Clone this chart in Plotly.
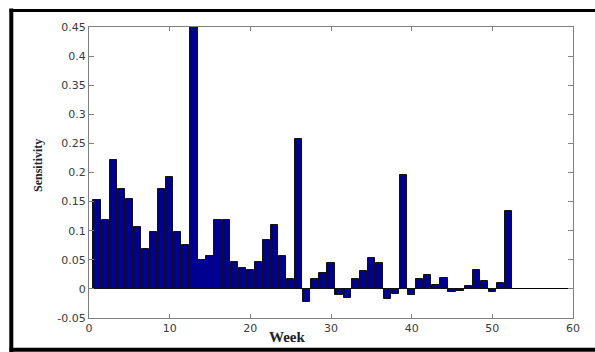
import plotly.graph_objects as go

weeks = list(range(1, 53))
sensitivity = [
    0.153, 0.119, 0.222, 0.171, 0.154, 0.106, 0.069, 0.098, 0.171, 0.193,
    0.098, 0.076, 0.450, 0.050, 0.056, 0.119, 0.119, 0.047, 0.036, 0.033,
    0.046, 0.084, 0.109, 0.056, 0.017, 0.257, -0.022, 0.017, 0.027, 0.044,
    -0.010, -0.016, 0.017, 0.031, 0.053, 0.044, -0.018, -0.009, 0.195, -0.011,
    0.017, 0.024, 0.006, 0.019, -0.006, -0.003, 0.005, 0.033, 0.013, -0.006,
    0.010, 0.134,
]
x_ticks = [0, 10, 20, 30, 40, 50, 60]
y_ticks = [-0.05, 0, 0.05, 0.1, 0.15, 0.2, 0.25, 0.3, 0.35, 0.4, 0.45]
y_tick_labels = ["-0.05", "0", "0.05", "0.1", "0.15", "0.2", "0.25", "0.3", "0.35", "0.4", "0.45"]

W, H = 595, 352
L, R, T, B = 89, 22, 27, 34
pw, ph = W - L - R, H - T - B

def px(xp):
    return (xp - L) / pw

def py(yp):
    return (H - B - yp) / ph

fig = go.Figure()
fig.add_trace(go.Bar(
    x=weeks, y=sensitivity, width=0.9,
    marker=dict(color="#000090", line=dict(color="#111111", width=1)),
    showlegend=False,
))

tickfont = dict(family="DejaVu Sans", size=11, color="#3a3a3a")
fig.update_layout(
    width=W, height=H,
    margin=dict(l=L, r=R, t=T, b=B),
    paper_bgcolor="white", plot_bgcolor="white",
    bargap=0,
    xaxis=dict(range=[0, 60], tickvals=x_ticks, ticks="inside", ticklen=4,
               tickcolor="#808080", showline=True, linecolor="#808080",
               linewidth=1, mirror="ticks", showgrid=False, zeroline=False,
               tickfont=tickfont),
    yaxis=dict(range=[-0.05, 0.45], tickvals=y_ticks, ticktext=y_tick_labels,
               ticks="inside", ticklen=5, tickcolor="#808080", showline=True,
               linecolor="#808080", linewidth=1, mirror="ticks", showgrid=False,
               zeroline=True, zerolinecolor="#000000", zerolinewidth=1,
               tickfont=tickfont),
    annotations=[
        dict(text="<b>Week</b>", xref="paper", yref="paper", x=px(287), y=py(337),
             showarrow=False, font=dict(family="Liberation Serif", size=15, color="#222222"),
             xanchor="center", yanchor="middle"),
        dict(text="<b>Sensitivity</b>", xref="paper", yref="paper", x=px(38), y=py(166),
             showarrow=False, textangle=-90,
             font=dict(family="Liberation Serif", size=12, color="#222222"),
             xanchor="center", yanchor="middle"),
    ],
    shapes=[
        dict(type="line", xref="paper", yref="paper", x0=px(11.3), x1=px(11.3),
             y0=py(8.5), y1=py(352), line=dict(color="black", width=4)),
        dict(type="line", xref="paper", yref="paper", x0=px(9.5), x1=px(600),
             y0=py(10.5), y1=py(10.5), line=dict(color="black", width=3)),
        dict(type="line", xref="paper", yref="paper", x0=px(9.5), x1=px(600),
             y0=py(349.8), y1=py(349.8), line=dict(color="black", width=4)),
    ],
)

fig.write_html("out.html")
